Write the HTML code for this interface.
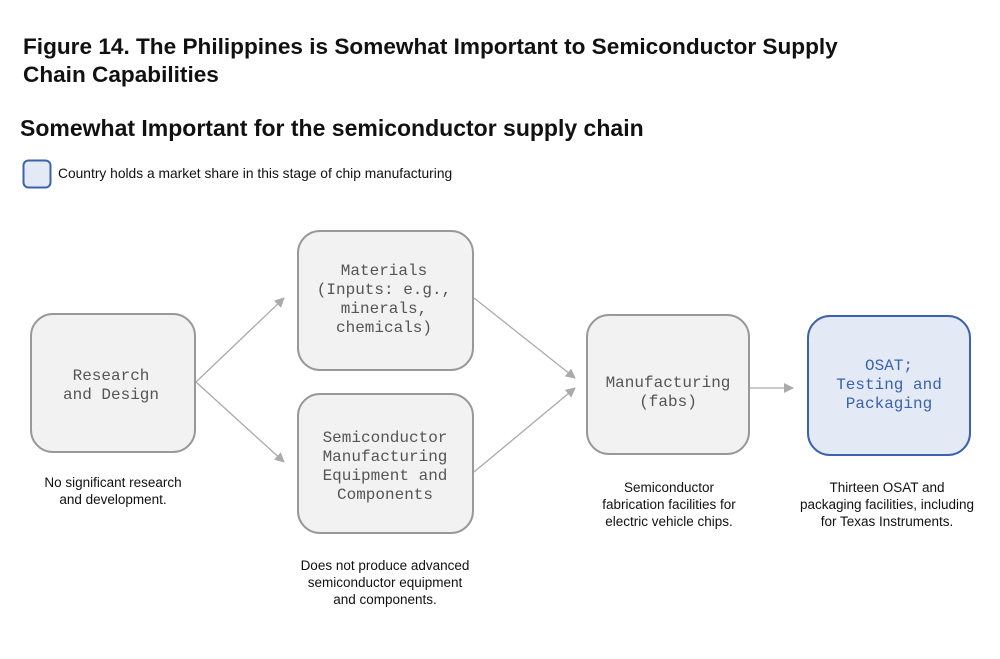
<!DOCTYPE html>
<html><head><meta charset="utf-8"><style>
body{margin:0;background:#fff;width:1000px;height:654px;overflow:hidden;font-family:"Liberation Sans",sans-serif;color:#111}
</style></head><body>
<svg width="1000" height="654" xmlns="http://www.w3.org/2000/svg">
<defs><marker id="a" markerWidth="10" markerHeight="10" refX="9" refY="5" orient="auto" markerUnits="userSpaceOnUse"><path d="M0,0 L10,5 L0,10 z" fill="#aaa"/></marker></defs>
<text x="23" y="54" font-size="22.6" font-weight="bold" fill="#111">Figure 14. The Philippines is Somewhat Important to Semiconductor Supply</text>
<text x="23" y="82" font-size="22.6" font-weight="bold" fill="#111">Chain Capabilities</text>
<text x="20" y="136" font-size="23" font-weight="bold" fill="#111">Somewhat Important for the semiconductor supply chain</text>
<rect x="23.5" y="160.5" width="27" height="27" rx="5" fill="#e3eaf6" stroke="#3b62ad" stroke-width="2"/>
<text x="58" y="178" font-size="13.8" fill="#111">Country holds a market share in this stage of chip manufacturing</text>
<g fill="none" stroke="#aaa" stroke-width="1.3">
<line x1="196" y1="382" x2="284" y2="298" marker-end="url(#a)"/>
<line x1="196" y1="382" x2="284" y2="462" marker-end="url(#a)"/>
<line x1="474" y1="298" x2="575" y2="378" marker-end="url(#a)"/>
<line x1="474" y1="472" x2="575" y2="388" marker-end="url(#a)"/>
<line x1="750" y1="388" x2="793" y2="388" marker-end="url(#a)"/>
</g>
<g fill="#f2f2f2" stroke="#999" stroke-width="2">
<rect x="31" y="314" width="164" height="138" rx="22"/>
<rect x="298" y="231" width="175" height="139" rx="22"/>
<rect x="298" y="394" width="175" height="139" rx="22"/>
<rect x="587" y="315" width="162" height="139" rx="22"/>
</g>
<rect x="808" y="316" width="162" height="139" rx="22" fill="#e3eaf6" stroke="#3b62ad" stroke-width="2"/>
<g font-family="Liberation Mono,monospace" font-size="16" fill="#555" text-anchor="middle">
<text x="111" y="380">Research</text><text x="111" y="399">and Design</text>
<text x="384" y="275">Materials</text><text x="384" y="294">(Inputs: e.g.,</text><text x="384" y="313">minerals,</text><text x="384" y="332">chemicals)</text>
<text x="385" y="442">Semiconductor</text><text x="385" y="461">Manufacturing</text><text x="385" y="480">Equipment and</text><text x="385" y="499">Components</text>
<text x="668" y="387">Manufacturing</text><text x="668" y="406">(fabs)</text>
<g fill="#3b62ad"><text x="889" y="370">OSAT;</text><text x="889" y="389">Testing and</text><text x="889" y="408">Packaging</text></g>
</g>
<g font-size="13.5" fill="#111" text-anchor="middle">
<text x="113" y="487">No significant research</text><text x="113" y="504">and development.</text>
<text x="385" y="570">Does not produce advanced</text><text x="385" y="587">semiconductor equipment</text><text x="385" y="604">and components.</text>
<text x="669" y="492">Semiconductor</text><text x="669" y="509">fabrication facilities for</text><text x="669" y="526">electric vehicle chips.</text>
<text x="887" y="492">Thirteen OSAT and</text><text x="887" y="509">packaging facilities, including</text><text x="887" y="526">for Texas Instruments.</text>
</g>
</svg>
</body></html>
